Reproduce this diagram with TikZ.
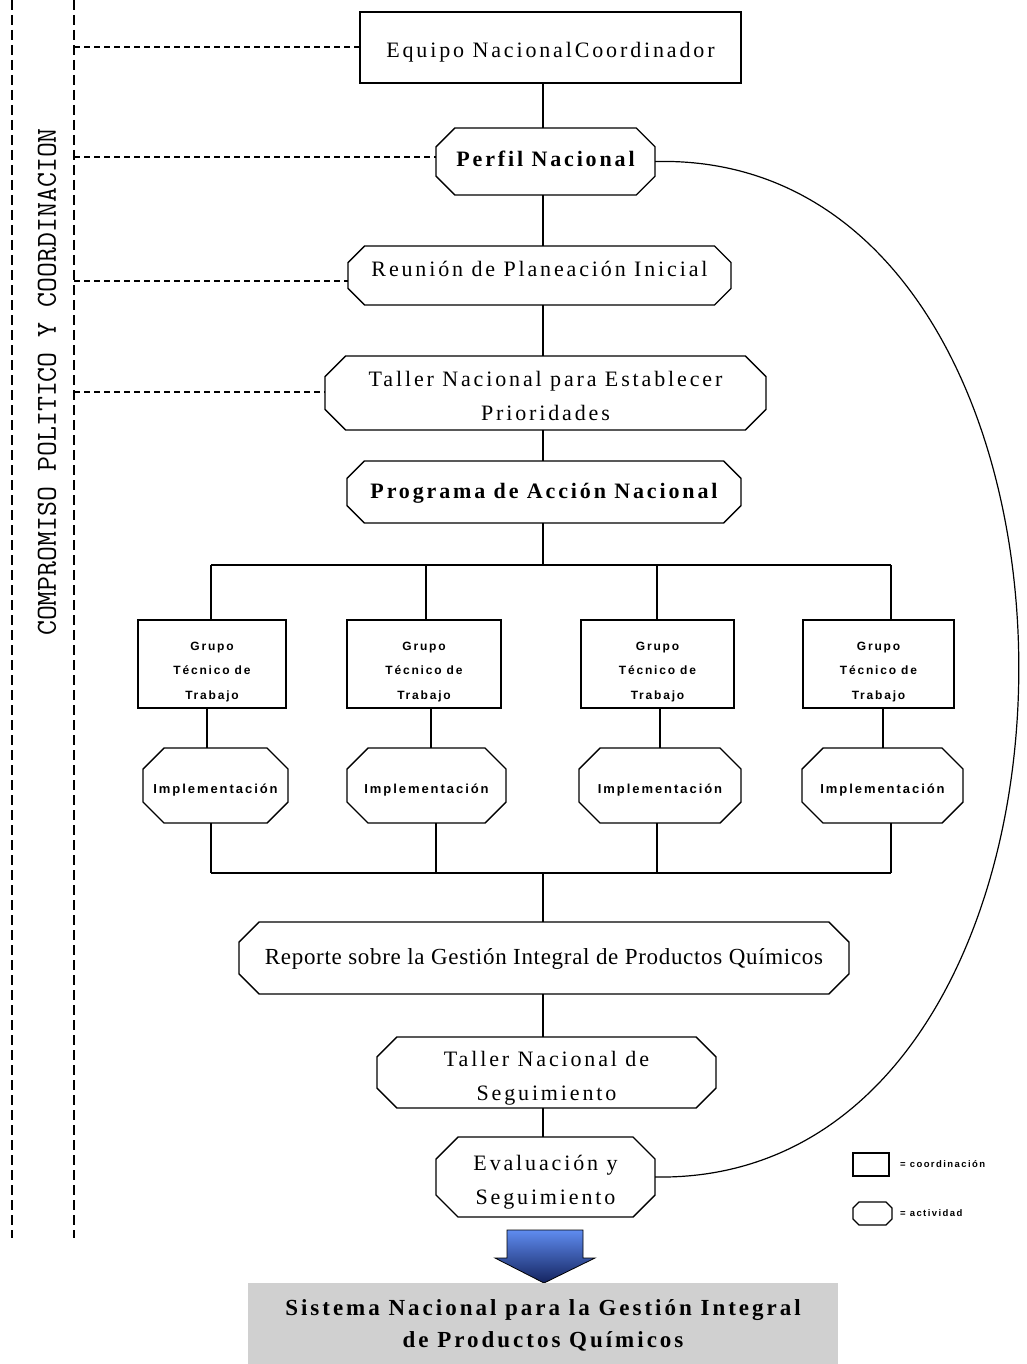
\documentclass[tikz,border=0pt]{standalone}
\usepackage{fontspec}
\setmainfont{Liberation Serif}
\newfontfamily\spf[LetterSpace=13]{Liberation Serif}
\newfontfamily\rpf[LetterSpace=3]{Liberation Serif}
\newfontfamily\smf[LetterSpace=15]{Liberation Sans}
% #1 name, #2 x1, #3 y1, #4 x2, #5 y2, #6 text options, #7 text shift (down, pt), #8 text
\newcommand\octshape[8]{%
  \pgfmathsetmacro\octcc{min(0.28*(#5-#3),22)}
  \draw[boxline] ({#2+\octcc},#3) -- ({#4-\octcc},#3) -- (#4,{#3+\octcc}) -- (#4,{#5-\octcc})
     -- ({#4-\octcc},#5) -- ({#2+\octcc},#5) -- (#2,{#5-\octcc}) -- (#2,{#3+\octcc}) -- cycle;
  \node[inner sep=0pt, minimum width={#4-#2}, minimum height={#5-#3}]
     (#1) at ({(#2+#4)/2},{(#3+#5)/2}) {};
  \node[inner sep=0pt, align=center, #6] (#1t) at ({(#2+#4)/2},{(#3+#5)/2+#7}) {#8};
}
\newcommand\rectshape[8]{%
  \node[boxline, draw, inner sep=0pt, minimum width={#4-#2}, minimum height={#5-#3}]
     (#1) at ({(#2+#4)/2},{(#3+#5)/2}) {};
  \node[inner sep=0pt, align=center, #6] (#1t) at ({(#2+#4)/2},{(#3+#5)/2+#7}) {#8};
}
\begin{document}
\begin{tikzpicture}[x=1pt,y=-1pt,
  boxline/.style={line width=1.4pt, black},
  conn/.style={line width=1.4pt, black},
  dashline/.style={line width=1.2pt, dash pattern=on 6pt off 4pt},
  vdash/.style={line width=1.4pt, dash pattern=on 10pt off 5pt},
  big/.style={font=\spf\fontsize{22}{34}\selectfont},
  bigb/.style={font=\spf\bfseries\fontsize{22}{33}\selectfont},
  grp/.style={font=\smf\bfseries\fontsize{12}{24.5}\selectfont},
  impl/.style={font=\smf\bfseries\fontsize{13}{15}\selectfont},
  leg/.style={font=\smf\bfseries\fontsize{9.5}{11}\selectfont, anchor=west, inner sep=0pt}
]
\useasboundingbox (0,0) rectangle (1026,1364);

% left dashed frame
\coordinate (l1t) at (12,0);   \coordinate (l1b) at (12,1238);
\coordinate (l2t) at (74,0);   \coordinate (l2b) at (74,1238);
\draw[vdash] (l1t) -- (l1b);
\draw[vdash] (l2t) -- (l2b);
\node[rotate=90, font=\ttfamily\fontsize{29}{29}\selectfont, inner sep=0pt] (compro) at (47,382) {COMPROMISO POLITICO Y COORDINACION};

% trunk x
\coordinate (tx) at (543,0);

% main chain
\rectshape{equipo}{360}{12}{741}{83}{big}{5}{Equipo NacionalCoordinador}
\octshape{perfil}{436}{128}{655}{195}{bigb}{-3}{Perfil Nacional}
\octshape{reunion}{348}{246}{731}{305}{big}{-7}{Reunión de Planeación Inicial}
\octshape{taller}{325}{356}{766}{430}{big}{3}{Taller Nacional para Establecer\\Prioridades}
\octshape{programa}{347}{461}{741}{523}{bigb}{1}{Programa de Acción Nacional}

\draw[conn] (equipo.south -| tx) -- (perfil.north -| tx);
\draw[conn] (perfil.south -| tx) -- (reunion.north -| tx);
\draw[conn] (reunion.south -| tx) -- (taller.north -| tx);
\draw[conn] (taller.south -| tx) -- (programa.north -| tx);

% dashed links
\coordinate (d1) at (74,47);
\coordinate (d2) at (74,157);
\coordinate (d3) at (74,281);
\coordinate (d4) at (74,392);
\draw[dashline] (d1) -- (d1 -| equipo.west);
\draw[dashline] (d2) -- (d2 -| perfil.west);
\draw[dashline] (d3) -- (d3 -| reunion.west);
\draw[dashline] (d4) -- (d4 -| taller.west);

% groups
\rectshape{g1}{138}{620}{286}{708}{grp}{8}{Grupo\\Técnico de\\Trabajo}
\rectshape{g2}{347}{620}{501}{708}{grp}{8}{Grupo\\Técnico de\\Trabajo}
\rectshape{g3}{581}{620}{734}{708}{grp}{8}{Grupo\\Técnico de\\Trabajo}
\rectshape{g4}{803}{620}{954}{708}{grp}{8}{Grupo\\Técnico de\\Trabajo}

\octshape{i1}{143}{748}{288}{823}{impl}{5}{Implementación}
\octshape{i2}{347}{748}{506}{823}{impl}{5}{Implementación}
\octshape{i3}{579}{748}{741}{823}{impl}{5}{Implementación}
\octshape{i4}{802}{748}{963}{823}{impl}{5}{Implementación}

% branch x positions
\coordinate (a1) at (211,565); \coordinate (a2) at (426,565); \coordinate (a3) at (657,565); \coordinate (a4) at (891,565);
\coordinate (m1) at (207,0); \coordinate (m2) at (431,0); \coordinate (m3) at (660,0); \coordinate (m4) at (883,0);
\coordinate (b1) at (211,873); \coordinate (b2) at (436,873); \coordinate (b3) at (657,873); \coordinate (b4) at (891,873);

\draw[conn] (programa.south -| tx) -- (a1 -| tx);
\draw[conn] (a1) -- (a4);
\foreach \n/\g in {1/g1,2/g2,3/g3,4/g4} { \draw[conn] (a\n) -- (a\n |- \g.north); }
\foreach \n/\g/\i in {1/g1/i1,2/g2/i2,3/g3/i3,4/g4/i4} { \draw[conn] (\g.south -| m\n) -- (\i.north -| m\n); }

\draw[conn] (b1) -- (b4);
\foreach \n/\i in {1/i1,2/i2,3/i3,4/i4} { \draw[conn] (b\n |- \i.south) -- (b\n); }

\octshape{reporte}{239}{922}{849}{994}{font=\rpf\fontsize{23}{26}\selectfont}{1}{Reporte sobre la Gestión Integral de Productos Químicos}
\octshape{tseg}{377}{1037}{716}{1108}{big}{6}{Taller Nacional de\\Seguimiento}
\octshape{eval}{436}{1137}{655}{1217}{big}{5}{Evaluación y\\Seguimiento}

\draw[conn] (b1 -| tx) -- (reporte.north -| tx);
\draw[conn] (reporte.south -| tx) -- (tseg.north -| tx);
\draw[conn] (tseg.south -| tx) -- (eval.north -| tx);

% feedback curve
\draw[line width=1.2pt] (perfil.east) .. controls (1140,150) and (1140,1185) .. (eval.east);

% block arrow
\draw[line width=0.8pt, top color={rgb,255:red,95;green,140;blue,240}, bottom color={rgb,255:red,20;green,35;blue,95}]
  (507,1230) -- (583,1230) -- (583,1258) -- (595,1258) -- (544,1283) -- (495,1258) -- (507,1258) -- cycle;

% result box
\node[fill={rgb,255:red,208;green,208;blue,208}, minimum width=590, minimum height=81, inner sep=0pt] (sistema) at (543,1323.5) {};
\node[inner sep=0pt, align=center, font=\spf\bfseries\fontsize{23}{32}\selectfont] (sistemat) at (543,1325)
  {Sistema Nacional para la Gestión Integral\\de Productos Químicos};

% legend
\node[draw, line width=1.2pt, minimum width=36, minimum height=23, inner sep=0pt] (legr) at (871,1164.5) {};
\node[leg] (legrt) at (900,1164.5) {= coordinación};
\draw[line width=1.2pt] (859,1202) -- (886,1202) -- (892,1208) -- (892,1219) -- (886,1225) -- (859,1225) -- (853,1219) -- (853,1208) -- cycle;
\coordinate (lego) at (872.5,1213.5);
\node[leg] (legot) at (900,1213.5) {= actividad};
\end{tikzpicture}
\end{document}
